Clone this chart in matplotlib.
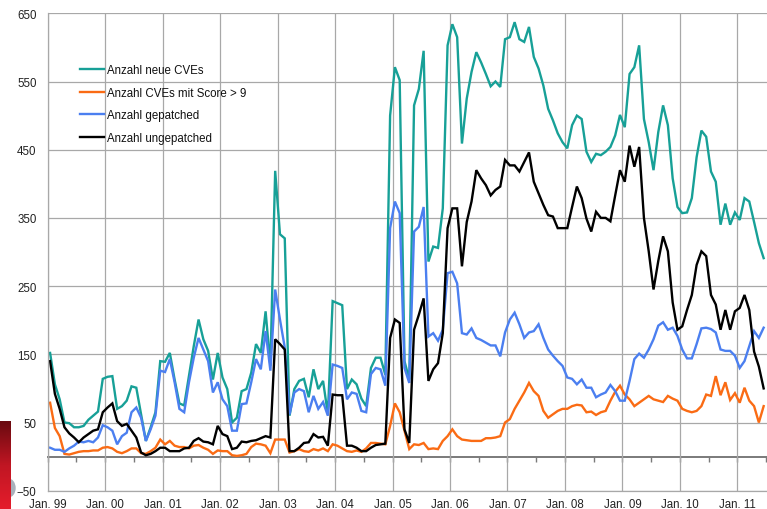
import numpy as np
import matplotlib
matplotlib.use('Agg')
import matplotlib.pyplot as plt
from matplotlib.patches import Ellipse
from matplotlib.colors import LinearSegmentedColormap

plt.rcParams['font.family'] = ['Liberation Sans', 'DejaVu Sans']

year_labels = ['Jan. 99', 'Jan. 00', 'Jan. 01', 'Jan. 02', 'Jan. 03', 'Jan. 04', 'Jan. 05',
               'Jan. 06', 'Jan. 07', 'Jan. 08', 'Jan. 09', 'Jan. 10', 'Jan. 11']
series_names = ['Anzahl neue CVEs', 'Anzahl CVEs mit Score > 9', 'Anzahl gepatched', 'Anzahl ungepatched']

neue_cves = [
    152, 106, 84, 50, 49, 43, 43, 45, 54, 60, 66, 114,
    117, 118, 70, 74, 82, 103, 101, 62, 23, 43, 65, 140,
    139, 152, 113, 78, 75, 118, 162, 201, 172, 155, 113, 152,
    116, 99, 50, 57, 96, 99, 123, 165, 152, 213, 133, 419,
    326, 320, 60, 99, 111, 114, 87, 128, 99, 111, 62, 228,
    225, 222, 99, 113, 106, 85, 74, 130, 145, 145, 120, 500,
    571, 552, 140, 113, 515, 539, 595, 286, 308, 306, 364, 603,
    634, 615, 459, 525, 564, 593, 578, 561, 543, 550, 542, 612,
    615, 637, 612, 608, 630, 586, 569, 544, 510, 493, 474, 461,
    452, 486, 500, 495, 447, 432, 444, 442, 447, 454, 471, 501,
    483, 561, 571, 603, 495, 461, 420, 476, 515, 486, 408, 366,
    357, 358, 379, 439, 478, 469, 418, 403, 340, 371, 340, 358,
    347, 379, 374, 344, 313, 291,
]
score_9 = [
    79, 42, 30, 4, 3, 5, 7, 8, 8, 9, 9, 13,
    14, 12, 7, 5, 8, 12, 12, 5, 4, 8, 13, 25,
    18, 23, 16, 14, 14, 12, 16, 17, 13, 10, 4, 9,
    8, 8, 2, 1, 2, 4, 14, 19, 18, 16, 5, 25,
    25, 25, 6, 8, 11, 8, 7, 11, 9, 12, 8, 18,
    16, 12, 8, 7, 9, 7, 12, 20, 20, 19, 18, 45,
    78, 65, 38, 11, 18, 17, 20, 11, 12, 11, 23, 30,
    40, 30, 25, 24, 23, 23, 23, 27, 27, 28, 30, 50,
    55, 70, 82, 94, 108, 96, 89, 67, 57, 62, 67, 70,
    70, 74, 76, 75, 65, 66, 61, 65, 67, 82, 95, 104,
    91, 84, 74, 79, 84, 89, 84, 82, 80, 89, 85, 82,
    70, 67, 65, 67, 74, 91, 89, 118, 90, 109, 83, 93,
    79, 101, 82, 74, 50, 74,
]
gepatched = [
    13, 10, 10, 7, 12, 16, 22, 21, 23, 21, 28, 46,
    43, 38, 18, 30, 35, 65, 72, 57, 23, 40, 60, 126,
    124, 143, 109, 70, 65, 109, 145, 174, 157, 140, 94, 109,
    84, 74, 38, 38, 77, 78, 109, 143, 128, 184, 126, 245,
    201, 160, 62, 94, 99, 96, 65, 89, 70, 80, 60, 135,
    133, 130, 84, 94, 92, 67, 65, 121, 130, 128, 104, 335,
    374, 357, 130, 108, 330, 337, 366, 176, 181, 170, 186, 269,
    271, 254, 181, 179, 188, 174, 171, 167, 163, 163, 147, 182,
    201, 211, 194, 174, 182, 184, 194, 174, 157, 148, 140, 133,
    116, 114, 106, 113, 101, 101, 87, 91, 94, 105, 96, 82,
    82, 111, 143, 151, 145, 157, 172, 192, 197, 186, 189, 177,
    157, 144, 144, 165, 188, 189, 187, 182, 157, 155, 155, 148,
    130, 140, 162, 184, 174, 189,
]
ungepatched = [
    140, 92, 70, 43, 34, 28, 21, 28, 33, 38, 40, 65,
    72, 78, 52, 45, 48, 38, 28, 6, 2, 4, 8, 13,
    13, 8, 8, 8, 12, 13, 23, 27, 22, 21, 18, 45,
    33, 30, 11, 13, 22, 21, 23, 24, 27, 30, 28, 172,
    165, 157, 8, 8, 13, 20, 21, 33, 28, 29, 16, 91,
    90, 90, 16, 16, 13, 8, 8, 13, 17, 18, 19, 174,
    201, 196, 40, 20, 186, 208, 232, 111, 128, 137, 181, 335,
    364, 364, 279, 344, 374, 420, 408, 398, 383, 391, 396, 435,
    427, 427, 418, 432, 446, 403, 386, 369, 354, 352, 335, 335,
    335, 366, 396, 379, 349, 330, 359, 350, 350, 345, 383, 420,
    403, 456, 425, 454, 350, 301, 245, 287, 323, 301, 226, 186,
    191, 215, 237, 281, 301, 294, 237, 223, 186, 215, 186, 213,
    218, 237, 215, 154, 132, 100,
]

colors = ['#17a097', '#fa6b14', '#4b7ff0', '#000000']

W, H = 767, 510
fig = plt.figure(figsize=(W / 100, H / 100), dpi=100)
left_px, right_px, top_px, bot_px = 47.7, 767.0, 14.3, 491.7
ax = fig.add_axes([left_px / W, 1 - bot_px / H, (right_px - left_px) / W, (bot_px - top_px) / H])

ymin, ymax = -50, 650
ax.set_ylim(ymin, ymax)
ax.set_xlim(0, (right_px - left_px) / 4.789)
ax.set_yticks(np.arange(-50, 651, 100))
ax.set_xticks(np.arange(0, 12 * len(year_labels), 12))
ax.set_xticklabels(year_labels)
ax.grid(True, color='#a8a8a8', lw=0.9)
ax.set_axisbelow(True)
for s in ['top', 'right']:
    ax.spines[s].set_visible(False)
for s in ['left', 'bottom']:
    ax.spines[s].set_color('#a8a8a8')
    ax.spines[s].set_linewidth(0.9)
ax.tick_params(axis='both', length=0, labelsize=8.3, colors='#222222')
ax.tick_params(axis='y', pad=8.0)
ax.tick_params(axis='x', pad=5.0)

# zero axis with half-year ticks
zero_frac = (0 - ymin) / (ymax - ymin)
sec = ax.secondary_xaxis(zero_frac)
sec.set_xticks(np.arange(0, 151, 6))
sec.tick_params(axis='x', direction='out', length=3.5, width=1.0, color='#7a7a7a',
                labelbottom=False, labeltop=False)
for s in sec.spines.values():
    s.set_color('#7a7a7a')
    s.set_linewidth(1.4)

x = np.arange(len(neue_cves)) + 0.5
data = [neue_cves, score_9, gepatched, ungepatched]
for vals, c, name in zip(data, colors, series_names):
    ax.plot(x, vals, color=c, lw=1.7, label=name, solid_joinstyle='miter', clip_on=True)

leg = ax.legend(loc='upper left', bbox_to_anchor=((80 - left_px) / (right_px - left_px),
                                                   (bot_px - 65.5) / (bot_px - top_px)),
                frameon=False, fontsize=8.3, handlelength=2.1, handletextpad=0.2,
                labelspacing=0.9, borderpad=0, borderaxespad=0)
for t in leg.get_texts():
    t.set_color('#111111')

# artifact bottom-left
fig.add_artist(Ellipse((8 / W, 1 - 489 / H), width=14 / W, height=18 / H,
                       transform=fig.transFigure, color='#a9b1bb', zorder=3))
art = fig.add_axes([0, 0, 11 / W, (H - 422) / H], zorder=4)
cmap = LinearSegmentedColormap.from_list('r', ['#e51d2c', '#c01623', '#6a0a10'])
art.imshow(np.linspace(0, 1, 100).reshape(-1, 1)[::-1], aspect='auto', cmap=cmap)
art.axis('off')

fig.savefig('out.png', dpi=100)
